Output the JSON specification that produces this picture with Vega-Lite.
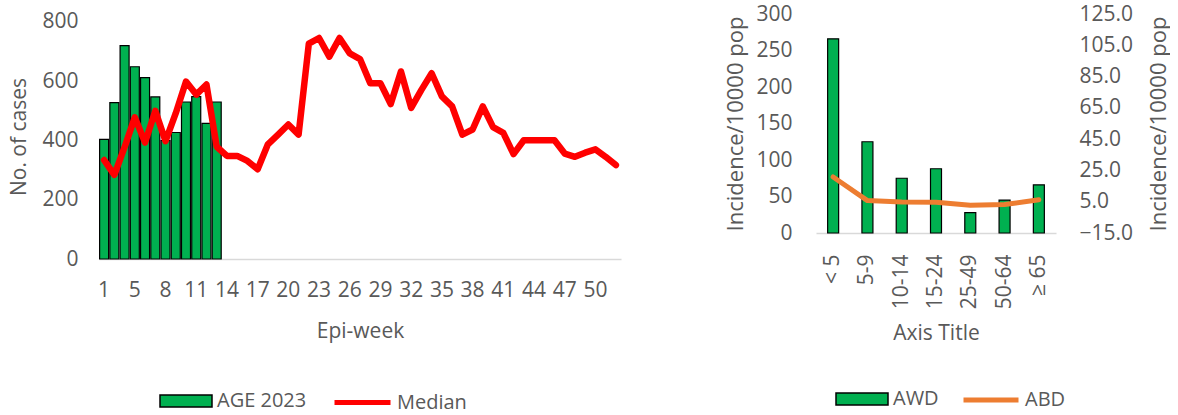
{
  "$schema": "https://vega.github.io/schema/vega-lite/v6.json",
  "padding": {"left": 8, "top": 3, "right": 0, "bottom": 0},
  "background": "white",
  "config": {
    "font": "Open Sans",
    "view": {"stroke": null},
    "axis": {"labelFont": "Open Sans", "titleFont": "Open Sans", "labelColor": "#595959", "titleColor": "#595959", "labelFontSize": 21, "titleFontSize": 21, "titleFontWeight": "normal", "grid": false, "ticks": false, "domainColor": "#D9D9D9", "domainWidth": 1.5},
    "legend": {"labelFont": "Open Sans", "labelFontSize": 20, "labelColor": "#595959"},
    "concat": {"spacing": 103}
  },
  "datasets": {
    "weekly": [
      {"week": 1, "cases": 404, "median": 334},
      {"week": 3, "cases": 528, "median": 284},
      {"week": 4, "cases": 720, "median": 378},
      {"week": 5, "cases": 649, "median": 478},
      {"week": 6, "cases": 612, "median": 393},
      {"week": 7, "cases": 547, "median": 500},
      {"week": 8, "cases": 400, "median": 398},
      {"week": 9, "cases": 427, "median": 492},
      {"week": 10, "cases": 530, "median": 599},
      {"week": 11, "cases": 548, "median": 555},
      {"week": 12, "cases": 458, "median": 589},
      {"week": 13, "cases": 530, "median": 379},
      {"week": 14, "cases": null, "median": 348},
      {"week": 15, "cases": null, "median": 348},
      {"week": 16, "cases": null, "median": 331},
      {"week": 17, "cases": null, "median": 303},
      {"week": 18, "cases": null, "median": 387},
      {"week": 19, "cases": null, "median": 420},
      {"week": 20, "cases": null, "median": 454},
      {"week": 21, "cases": null, "median": 420},
      {"week": 22, "cases": null, "median": 727},
      {"week": 23, "cases": null, "median": 746},
      {"week": 24, "cases": null, "median": 683},
      {"week": 25, "cases": null, "median": 746},
      {"week": 26, "cases": null, "median": 694},
      {"week": 27, "cases": null, "median": 675},
      {"week": 28, "cases": null, "median": 593},
      {"week": 29, "cases": null, "median": 593},
      {"week": 30, "cases": null, "median": 523},
      {"week": 31, "cases": null, "median": 633},
      {"week": 32, "cases": null, "median": 510},
      {"week": 33, "cases": null, "median": 571},
      {"week": 34, "cases": null, "median": 627},
      {"week": 35, "cases": null, "median": 549},
      {"week": 36, "cases": null, "median": 515},
      {"week": 37, "cases": null, "median": 420},
      {"week": 38, "cases": null, "median": 437},
      {"week": 39, "cases": null, "median": 515},
      {"week": 40, "cases": null, "median": 445},
      {"week": 41, "cases": null, "median": 426},
      {"week": 42, "cases": null, "median": 354},
      {"week": 43, "cases": null, "median": 401},
      {"week": 44, "cases": null, "median": 401},
      {"week": 45, "cases": null, "median": 401},
      {"week": 46, "cases": null, "median": 401},
      {"week": 47, "cases": null, "median": 356},
      {"week": 48, "cases": null, "median": 345},
      {"week": 49, "cases": null, "median": 359},
      {"week": 50, "cases": null, "median": 370},
      {"week": 51, "cases": null, "median": 345},
      {"week": 52, "cases": null, "median": 317}
    ],
    "age": [
      {"group": "< 5", "awd": 266, "abd": 20.8},
      {"group": "5-9", "awd": 125, "abd": 5.7},
      {"group": "10-14", "awd": 75, "abd": 4.8},
      {"group": "15-24", "awd": 88, "abd": 4.6},
      {"group": "25-49", "awd": 28, "abd": 2.8},
      {"group": "50-64", "awd": 45, "abd": 3.2},
      {"group": "≥ 65", "awd": 66, "abd": 6.2}
    ]
  },
  "hconcat": [
    {
      "width": 522,
      "height": 245,
      "data": {"name": "weekly"},
      "encoding": {
        "x": {"field": "week", "type": "ordinal", "sort": null,
          "scale": {"paddingInner": 0, "paddingOuter": 0},
          "axis": {"title": "Epi-week", "labelAngle": 0, "values": [1,5,8,11,14,17,20,23,26,29,32,35,38,41,44,47,50], "labelPadding": 20, "titlePadding": 20}}
      },
      "layer": [
        {
          "mark": {"type": "bar", "size": 9, "stroke": "black", "strokeWidth": 1.2},
          "transform": [{"filter": "datum.cases != null"}],
          "encoding": {
            "y": {"field": "cases", "type": "quantitative", "scale": {"domain": [0, 827], "nice": false},
              "axis": {"title": "No. of cases", "values": [0,200,400,600,800], "domain": false, "labelPadding": 21, "titlePadding": 14, "minExtent": 56, "maxExtent": 56}},
            "fill": {"datum": "AGE 2023", "type": "nominal", "scale": {"range": ["#00B050"]},
              "legend": {"title": null, "orient": "none", "legendX": 60, "legendY": 360, "symbolType": "M-1,-0.23H1V0.23H-1Z", "symbolSize": 2704, "symbolStrokeColor": "black", "symbolStrokeWidth": 1.5, "symbolFillColor": "#00B050"}}
          }
        },
        {
          "mark": {"type": "line", "strokeWidth": 6.5, "strokeJoin": "round", "strokeCap": "round"},
          "encoding": {
            "y": {"field": "median", "type": "quantitative"},
            "stroke": {"datum": "Median", "type": "nominal", "scale": {"range": ["#FF0000"]},
              "legend": {"title": null, "orient": "none", "legendX": 233, "legendY": 358, "symbolType": "stroke", "symbolSize": 3136, "symbolStrokeWidth": 5}}
          }
        }
      ]
    },
    {
      "width": 240,
      "height": 219,
      "data": {"name": "age"},
      "encoding": {
        "x": {"field": "group", "type": "nominal", "sort": null,
          "scale": {"paddingInner": 0, "paddingOuter": 0},
          "axis": {"title": "Axis Title", "labelAngle": -90, "labelPadding": 21, "titlePadding": 14}}
      },
      "layer": [
        {
          "mark": {"type": "bar", "size": 11, "stroke": "black", "strokeWidth": 1.2},
          "encoding": {
            "y": {"field": "awd", "type": "quantitative", "scale": {"domain": [0, 300]},
              "axis": {"title": "Incidence/10000 pop", "titleFontSize": 22, "orient": "left", "values": [0,50,100,150,200,250,300], "domain": false, "labelPadding": 24, "titlePadding": 8}},
            "fill": {"datum": "AWD", "type": "nominal", "scale": {"range": ["#00B050"]},
              "legend": {"title": null, "orient": "none", "legendX": 19, "legendY": 358, "symbolType": "M-1,-0.23H1V0.23H-1Z", "symbolSize": 2704, "symbolStrokeColor": "black", "symbolStrokeWidth": 1.5, "symbolFillColor": "#00B050"}}
          }
        },
        {
          "mark": {"type": "line", "strokeWidth": 5, "strokeJoin": "round", "strokeCap": "round"},
          "encoding": {
            "y": {"field": "abd", "type": "quantitative", "scale": {"domain": [-15, 125]},
              "axis": {"title": "Incidence/10000 pop", "titleFontSize": 22, "titleAngle": 270, "titleBaseline": "top", "orient": "right", "values": [-15,5,25,45,65,85,105,125], "format": ".1f", "domain": false, "labelPadding": 23, "titlePadding": 16}},
            "stroke": {"datum": "ABD", "type": "nominal", "scale": {"range": ["#ED7D31"]},
              "legend": {"title": null, "orient": "none", "legendX": 145, "legendY": 356, "symbolType": "stroke", "symbolSize": 3025, "symbolStrokeWidth": 5}}
          }
        }
      ],
      "resolve": {"scale": {"y": "independent", "fill": "independent", "stroke": "independent"}}
    }
  ],
  "resolve": {"scale": {"fill": "independent", "stroke": "independent"}}
}
